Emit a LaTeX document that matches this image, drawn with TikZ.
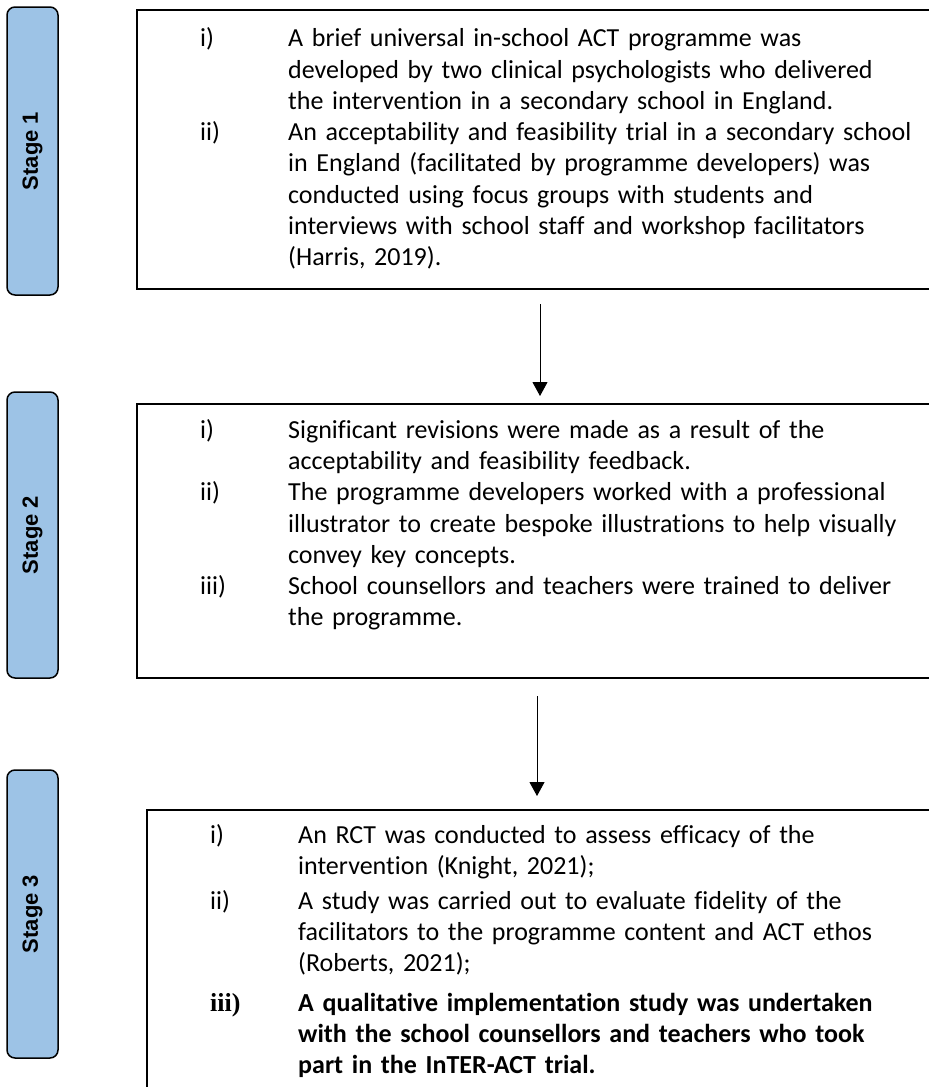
\documentclass[tikz,border=0pt]{standalone}
\usepackage{fontspec}
\setmainfont{Carlito}[Ligatures=NoCommon]
\newfontfamily\arialfont{Liberation Sans}
\newfontfamily\timesfont{Liberation Serif}
\usetikzlibrary{arrows.meta}
\definecolor{stageblue}{HTML}{9DC3E6}
\tikzset{
  stagebox/.style={draw=black, fill=stageblue, line width=1.5pt, rounded corners=8pt,
    rotate=90, font=\arialfont\bfseries\fontsize{22pt}{26pt}\selectfont, inner sep=0pt,
    minimum height=51pt},
  panel/.style={draw=black, line width=2pt, inner sep=0pt},
  itemnum/.style={anchor=base west, inner sep=0pt, font=\fontsize{26pt}{31.3pt}\selectfont},
  itembody/.style={anchor=base west, inner sep=0pt, text width=660pt, align=left,
    font=\fontsize{26pt}{31.3pt}\selectfont},
  flow/.style={line width=1pt, -{Triangle[width=15pt,length=14pt]}}
}
\begin{document}
\begin{tikzpicture}[x=1pt,y=-1pt]
\useasboundingbox (0,0) rectangle (929,1087);
\clip (0,0) rectangle (929,1087);

% stage pills
\node[stagebox, minimum width=288pt] (s1) at (32.5,151) {Stage 1};
\node[stagebox, minimum width=286pt] (s2) at (32.5,535) {Stage 2};
\node[stagebox, minimum width=288pt] (s3) at (32.5,914) {Stage 3};

% panels
\node[panel, minimum width=803pt, minimum height=279pt] (p1) at (538.5,149.5) {};
\node[panel, minimum width=803pt, minimum height=274pt] (p2) at (538.5,541) {};
\node[panel, minimum width=793pt, minimum height=290pt] (p3) at (543.5,955) {};

% arrows
\draw[flow, shorten <=14pt, shorten >=7pt] ([xshift=1.5pt]p1.south) -- ([xshift=1.5pt]p2.north);
\draw[flow, shorten <=17pt, shorten >=13pt] ([xshift=-1.5pt]p2.south) -- ([xshift=-6.5pt]p3.north);

% stage 1 text
\node[itemnum] (n11) at (200,46.7) {i)};
\node[itembody] (t11) at (288,46.7) {A brief universal in-school ACT programme was\\developed by two clinical psychologists who delivered\\the intervention in a secondary school in England.};
\node[itemnum] (n12) at (200,140.6) {ii)};
\node[itembody] (t12) at (288,140.6) {An acceptability and feasibility trial in a secondary school\\in England (facilitated by programme developers) was\\conducted using focus groups with students and\\interviews with school staff and workshop facilitators\\(Harris, 2019).};

% stage 2 text
\node[itemnum] (n21) at (200,438.3) {i)};
\node[itembody] (t21) at (288,438.3) {Significant revisions were made as a result of the\\acceptability and feasibility feedback.};
\node[itemnum] (n22) at (200,500.7) {ii)};
\node[itembody] (t22) at (288,500.7) {The programme developers worked with a professional\\illustrator to create bespoke illustrations to help visually\\convey key concepts.};
\node[itemnum] (n23) at (200,594.3) {iii)};
\node[itembody] (t23) at (288,594.3) {School counsellors and teachers were trained to deliver\\the programme.};

% stage 3 text
\node[itemnum] (n31) at (210,843) {i)};
\node[itembody] (t31) at (298,843) {An RCT was conducted to assess efficacy of the\\intervention (Knight, 2021);};
\node[itemnum] (n32) at (210,909) {ii)};
\node[itembody] (t32) at (298,909) {A study was carried out to evaluate fidelity of the\\facilitators to the programme content and ACT ethos\\(Roberts, 2021);};
\node[itemnum, font=\timesfont\bfseries\fontsize{26pt}{31.3pt}\selectfont] (n33) at (210,1011) {iii)};
\node[itembody, font=\bfseries\fontsize{26pt}{31.3pt}\selectfont] (t33) at (298,1011) {A qualitative implementation study was undertaken\\with the school counsellors and teachers who took\\part in the InTER-ACT trial.};
\end{tikzpicture}
\end{document}
